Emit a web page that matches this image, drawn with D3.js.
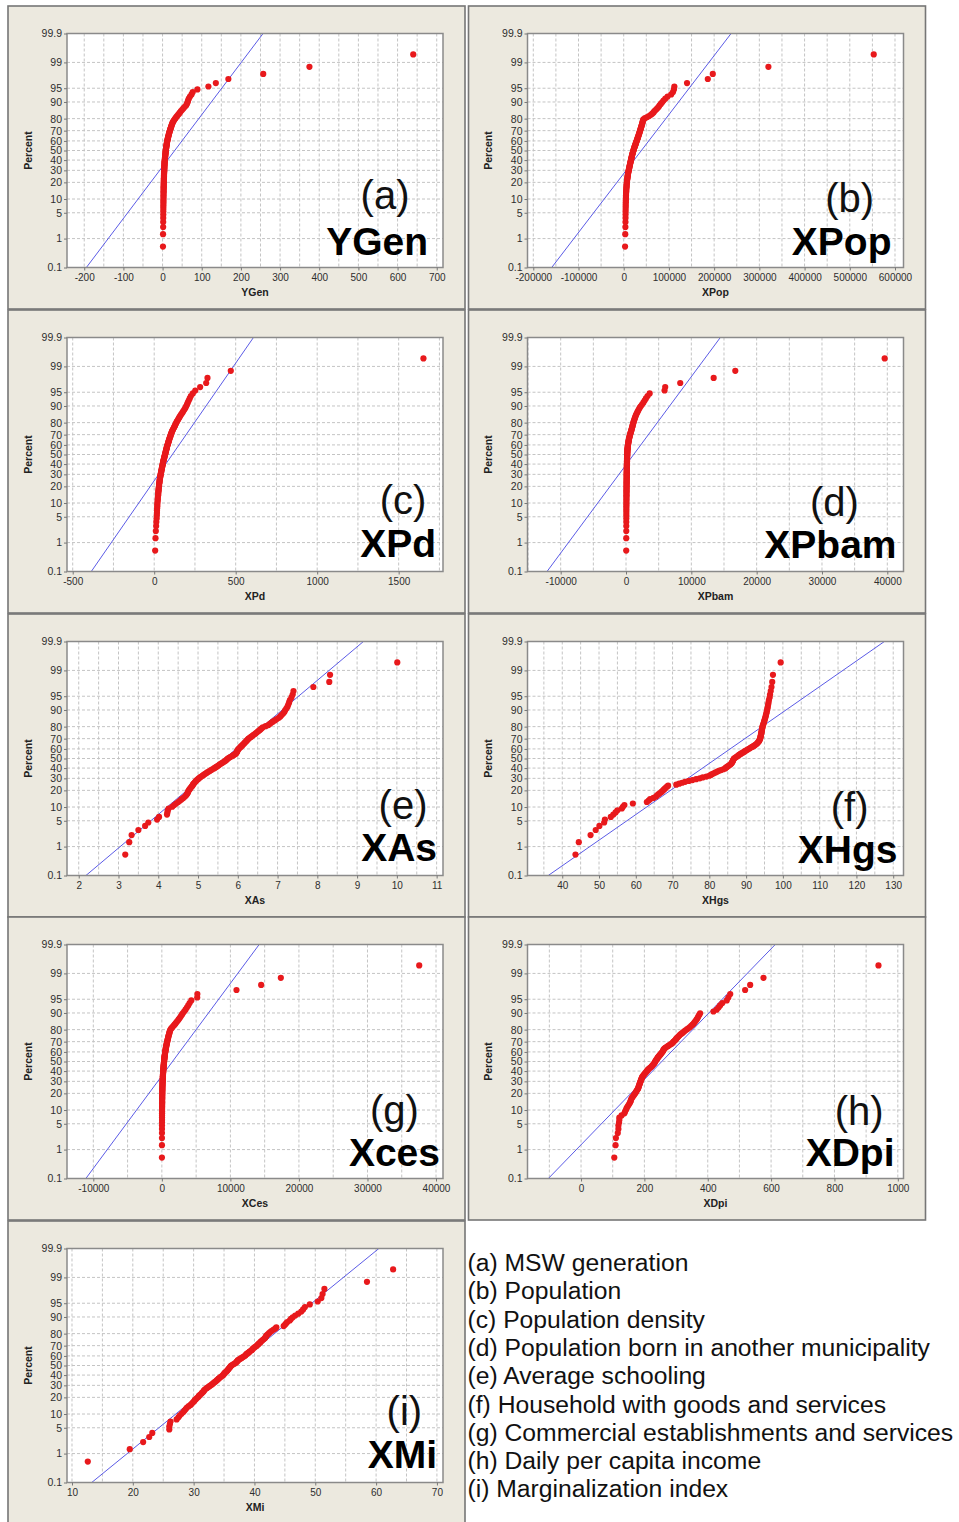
<!DOCTYPE html>
<html>
<head>
<meta charset="utf-8">
<script src="https://cdn.jsdelivr.net/npm/d3@7/dist/d3.min.js"></script>
<style>
  html, body { margin: 0; padding: 0; background: #ffffff; }
  svg { display: block; }
</style>
</head>
<body>
<svg id="fig" width="959" height="1522"></svg>
<script>
// ---------------------------------------------------------------------------
// Normal probability plots of the nine variables (125 municipalities each).
// Each series holds the sorted observations; percent position comes from rank.
// ---------------------------------------------------------------------------

const variables   = ["YGen", "XPop", "XPd", "XPbam", "XAs", "XHgs", "XCes", "XDpi", "XMi"];
const panelNames  = ["YGen", "XPop", "XPd", "XPbam", "XAs", "XHgs", "Xces", "XDpi", "XMi"];
const panelLetters = ["(a)", "(b)", "(c)", "(d)", "(e)", "(f)", "(g)", "(h)", "(i)"];

const YGen = [
  1.0, 1.2, 1.5, 1.6, 1.7, 1.8, 1.9, 2.0, 2.0, 2.1,
  2.2, 2.2, 2.3, 2.4, 2.4, 2.5, 2.6, 2.6, 2.7, 2.8,
  2.8, 2.9, 3.0, 3.0, 3.1, 3.2, 3.3, 3.3, 3.4, 3.5,
  3.6, 3.6, 3.7, 3.8, 3.9, 4.0, 4.1, 4.2, 4.3, 4.4,
  4.5, 4.6, 4.7, 4.8, 4.9, 5.0, 5.1, 5.2, 5.4, 5.6,
  5.8, 6.0, 6.2, 6.4, 6.6, 6.8, 7.0, 7.2, 7.4, 7.6,
  7.8, 8.0, 8.2, 8.4, 8.7, 9.0, 9.3, 9.6, 9.9, 10.2,
  10.5, 10.8, 11.1, 11.5, 11.9, 12.3, 12.7, 13.1, 13.6, 14.1,
  14.6, 15.1, 15.6, 16.2, 16.8, 17.4, 18.0, 18.7, 19.4, 20.1,
  20.8, 21.6, 22.4, 23.2, 24.0, 25.0, 26.0, 27.5, 29.0, 31.0,
  33.0, 35.0, 37.0, 39.5, 42.0, 44.5, 47.0, 50.0, 53.0, 56.0,
  60.0, 62.0, 64.0, 65.0, 67.0, 70.0, 74.0, 77.0,
  89, 117, 136, 168, 257, 375, 640
];

const XPop = [
  3000, 3400, 3700, 3900, 4000, 4100, 4200, 4300, 4400, 4500,
  4600, 4700, 4800, 4900, 5000, 5100, 5300, 5500, 5700, 5900,
  6100, 6300, 6500, 6700, 6900, 7100, 7400, 7700, 8000, 8300,
  8600, 8900, 9200, 9500, 9900, 10300, 10700, 11100, 11500, 11900,
  12300, 12700, 13100, 13500, 13900, 14300, 14700, 15100, 15500, 15900,
  16300, 16700, 17100, 17500, 17900, 18300, 18700, 19100, 19500, 20000,
  20500, 21000, 21500, 22000, 22500, 23000, 23600, 24200, 24800, 25400,
  26000, 26600, 27200, 27800, 28400, 29000, 29600, 30200, 30800, 31400,
  32000, 32600, 33200, 33800, 34400, 35000, 35600, 36200, 36800, 37400,
  38000, 38600, 39200, 39800, 40400, 41000, 41600, 42200, 42800, 43500,
  47000, 52000, 56000, 60000, 63000, 66000, 68000, 71000, 74000, 77000,
  79000, 82000, 85000, 88000, 92000, 97000, 105000, 109000,
  111000, 112000, 140000, 186000, 197000, 320000, 553000
];

const XPd = [
  6, 8, 10, 12, 13, 15, 16, 17, 17, 18,
  19, 19, 20, 21, 22, 22, 23, 24, 25, 25,
  26, 27, 27, 28, 29, 30, 30, 31, 32, 33,
  33, 34, 35, 36, 37, 38, 39, 40, 41, 42,
  43, 44, 45, 46, 47, 48, 49, 50, 51, 52,
  53, 54, 55, 56, 57, 58, 60, 61, 62, 63,
  64, 65, 67, 68, 69, 70, 71, 72, 74, 75,
  76, 77, 78, 80, 81, 83, 84, 86, 87, 89,
  90, 92, 93, 95, 97, 99, 100, 102, 104, 106,
  108, 110, 113, 116, 119, 122, 125, 128, 131, 134,
  137, 141, 145, 149, 153, 158, 163, 168, 174, 179,
  185, 191, 196, 201, 206, 212, 218, 225,
  237, 252, 282, 319, 327, 470, 1652
];

const XPbam = [
  30, 35, 40, 42, 45, 48, 50, 52, 54, 56,
  58, 60, 62, 64, 66, 68, 70, 72, 74, 76,
  78, 80, 82, 84, 86, 88, 90, 92, 94, 96,
  98, 100, 102, 104, 106, 108, 110, 112, 114, 116,
  118, 120, 122, 124, 126, 128, 130, 133, 136, 139,
  142, 145, 148, 151, 154, 157, 160, 164, 168, 172,
  176, 180, 185, 190, 195, 200, 206, 212, 220, 230,
  240, 252, 265, 280, 295, 310, 330, 350, 370, 390,
  410, 435, 460, 490, 520, 550, 585, 620, 660, 700,
  740, 780, 820, 860, 900, 940, 980, 1020, 1060, 1100,
  1150, 1200, 1260, 1320, 1380, 1450, 1530, 1620, 1720, 1830,
  1950, 2080, 2250, 2450, 2650, 2850, 3050, 3300,
  3620, 5900, 6000, 8300, 13420, 16730, 39600
];

const XAs = [
  3.17, 3.27, 3.33, 3.50, 3.67, 3.75, 3.97, 4.02, 4.22, 4.23,
  4.24, 4.26, 4.35, 4.40, 4.45, 4.50, 4.55, 4.59, 4.63, 4.67,
  4.70, 4.72, 4.74, 4.75, 4.76, 4.78, 4.80, 4.82, 4.84, 4.86,
  4.87, 4.89, 4.91, 4.93, 4.95, 4.97, 5.00, 5.02, 5.05, 5.08,
  5.11, 5.14, 5.17, 5.20, 5.23, 5.27, 5.30, 5.33, 5.36, 5.40,
  5.43, 5.46, 5.49, 5.52, 5.54, 5.57, 5.60, 5.63, 5.66, 5.69,
  5.71, 5.73, 5.75, 5.78, 5.81, 5.85, 5.88, 5.91, 5.94, 5.96,
  5.97, 5.98, 5.99, 6.00, 6.01, 6.03, 6.05, 6.07, 6.09, 6.11,
  6.13, 6.15, 6.17, 6.19, 6.21, 6.23, 6.25, 6.27, 6.30, 6.33,
  6.36, 6.39, 6.42, 6.45, 6.48, 6.51, 6.54, 6.57, 6.60, 6.63,
  6.70, 6.77, 6.80, 6.84, 6.88, 6.93, 6.98, 7.03, 7.07, 7.10,
  7.14, 7.17, 7.19, 7.22, 7.25, 7.27, 7.29, 7.31,
  7.35, 7.38, 7.40, 7.90, 8.30, 8.32, 10.01
];

const XHgs = [
  43.6, 44.5, 47.7, 49.1, 50.1, 51.4, 51.6, 53.2, 53.9, 54.5,
  55.0, 56.2, 56.5, 56.9, 59.2, 63.0, 63.5, 63.9, 64.8, 65.5,
  65.8, 66.2, 66.6, 67.0, 67.3, 67.6, 67.9, 68.2, 68.5, 68.8,
  71.0, 71.8, 72.6, 73.4, 74.4, 75.4, 76.4, 77.4, 78.2, 79.2,
  80.0, 80.4, 80.8, 81.2, 81.7, 82.2, 82.6, 83.2, 83.8, 84.3,
  84.5, 84.8, 85.1, 85.4, 85.7, 85.9, 86.1, 86.2, 86.3, 86.4,
  86.5, 86.6, 86.7, 87.0, 87.3, 87.6, 87.9, 88.2, 88.5, 88.8,
  89.2, 89.5, 89.8, 90.2, 90.5, 90.9, 91.2, 91.6, 92.0, 92.3,
  92.6, 92.9, 93.1, 93.3, 93.5, 93.6, 93.7, 93.8, 93.9, 93.9,
  94.0, 94.0, 94.1, 94.1, 94.2, 94.2, 94.3, 94.3, 94.4, 94.4,
  94.5, 94.6, 94.7, 94.8, 94.9, 95.0, 95.1, 95.2, 95.3, 95.4,
  95.5, 95.6, 95.7, 95.8, 95.9, 96.0, 96.1, 96.2,
  96.4, 96.5, 96.7, 96.9, 97.1, 97.3, 99.4
];

const XCes = [
  10, 12, 14, 16, 18, 20, 22, 24, 26, 28,
  30, 32, 34, 36, 38, 40, 42, 44, 46, 48,
  50, 53, 56, 59, 62, 65, 68, 71, 74, 77,
  80, 84, 88, 92, 96, 100, 105, 110, 115, 120,
  127, 134, 141, 148, 155, 162, 170, 178, 186, 195,
  204, 213, 222, 231, 240, 250, 260, 270, 280, 290,
  300, 310, 320, 332, 344, 356, 368, 380, 395, 410,
  425, 440, 455, 470, 485, 500, 520, 540, 560, 580,
  600, 625, 650, 675, 700, 725, 750, 780, 810, 840,
  870, 900, 930, 960, 1000, 1040, 1080, 1120, 1160, 1200,
  1300, 1420, 1550, 1700, 1850, 2000, 2150, 2300, 2450, 2600,
  2750, 2900, 3050, 3250, 3450, 3650, 3850, 4050,
  4300, 5160, 5180, 10890, 14490, 17360, 37550
];

const XDpi = [
  105, 109, 110, 116, 118, 118, 120, 121, 121, 128,
  137, 139, 142, 144, 147, 150, 153, 155, 157, 158,
  160, 162, 165, 167, 170, 172, 174, 176, 178, 180,
  181, 182, 183, 184, 185, 186, 187, 188, 189, 190,
  191, 192, 193, 195, 197, 199, 201, 203, 205, 207,
  209, 211, 213, 216, 219, 222, 224, 226, 228, 230,
  232, 233, 234, 236, 237, 239, 241, 242, 244, 246,
  248, 250, 252, 254, 256, 258, 259, 260, 262, 264,
  267, 271, 275, 279, 283, 287, 290, 292, 295, 298,
  300, 302, 305, 308, 311, 314, 318, 322, 326, 330,
  335, 340, 344, 348, 352, 356, 359, 362, 365, 368,
  370, 373, 376, 418, 428, 434, 439, 446,
  460, 465, 471, 518, 534, 576, 939
];

const XMi = [
  12.6, 19.5, 21.7, 22.7, 23.2, 26.0, 26.0, 26.1, 26.2, 27.2,
  27.5, 27.7, 28.0, 28.3, 28.5, 28.7, 28.9, 29.2, 29.5, 29.7,
  29.9, 30.1, 30.2, 30.4, 30.6, 30.8, 30.9, 31.1, 31.3, 31.4,
  31.6, 31.7, 31.8, 32.0, 32.2, 32.4, 32.6, 32.8, 33.0, 33.2,
  33.3, 33.5, 33.7, 33.8, 34.0, 34.1, 34.3, 34.4, 34.6, 34.8,
  34.9, 35.0, 35.1, 35.2, 35.4, 35.5, 35.6, 35.7, 35.8, 35.9,
  36.0, 36.1, 36.2, 36.4, 36.6, 36.8, 37.0, 37.1, 37.2, 37.3,
  37.5, 37.7, 37.9, 38.1, 38.3, 38.5, 38.6, 38.7, 38.9, 39.1,
  39.2, 39.4, 39.6, 39.7, 39.8, 40.0, 40.2, 40.4, 40.5, 40.7,
  40.8, 41.0, 41.1, 41.3, 41.5, 41.7, 41.8, 41.9, 42.0, 42.2,
  42.4, 42.6, 42.8, 43.1, 43.4, 43.6, 44.8, 45.0, 45.2, 45.4,
  45.8, 46.0, 46.3, 46.7, 47.2, 47.7, 48.0, 48.3,
  49.1, 50.4, 51.0, 51.2, 51.5, 58.5, 62.8
];

const series = [YGen, XPop, XPd, XPbam, XAs, XHgs, XCes, XDpi, XMi];

// Fitted normal reference line: mean and standard deviation per variable
const fitMean = [31, 39100, 111.5, 1174, 5.67, 81.9, 1555, 255, 36.85];
const fitSd   = [73, 64200, 161, 4293, 1.129, 14.79, 4092, 115.9, 7.64];

// Horizontal axis extents and labelled ticks
const xDomains = [
  [-244, 716], [-212800, 618800], [-535, 1772], [-15080, 42480], [1.705, 11.16],
  [30.55, 132.8], [-13840, 41020], [-169, 1018], [9.18, 71]
];
const xTicks = [
  [-200, -100, 0, 100, 200, 300, 400, 500, 600, 700],
  [-200000, -100000, 0, 100000, 200000, 300000, 400000, 500000, 600000],
  [-500, 0, 500, 1000, 1500],
  [-10000, 0, 10000, 20000, 30000, 40000],
  [2, 3, 4, 5, 6, 7, 8, 9, 10, 11],
  [40, 50, 60, 70, 80, 90, 100, 110, 120, 130],
  [-10000, 0, 10000, 20000, 30000, 40000],
  [0, 200, 400, 600, 800, 1000],
  [10, 20, 30, 40, 50, 60, 70]
];

// Probability (percent) axis
const percentTicks = [0.1, 1, 5, 10, 20, 30, 40, 50, 60, 70, 80, 90, 95, 99, 99.9];
const percentTickLabels = ["0.1", "1", "5", "10", "20", "30", "40", "50", "60", "70", "80", "90", "95", "99", "99.9"];

const legendLines = [
  "(a) MSW generation",
  "(b) Population",
  "(c) Population density",
  "(d) Population born in another municipality",
  "(e) Average schooling",
  "(f) Household with goods and services",
  "(g) Commercial establishments and services",
  "(h) Daily per capita income",
  "(i) Marginalization index"
];

// ---------------------------------------------------------------------------
// Inverse standard normal CDF (Acklam's rational approximation)
function normInv(p) {
  const a = [-3.969683028665376e+01, 2.209460984245205e+02, -2.759285104469687e+02,
             1.383577518672690e+02, -3.066479806614716e+01, 2.506628277459239e+00];
  const b = [-5.447609879822406e+01, 1.615858368580409e+02, -1.556989798598866e+02,
             6.680131188771972e+01, -1.328068155288572e+01];
  const c = [-7.784894002430293e-03, -3.223964580411365e-01, -2.400758277161838e+00,
             -2.549732539343734e+00, 4.374664141464968e+00, 2.938163982698783e+00];
  const d = [7.784695709041462e-03, 3.224671290700398e-01, 2.445134137142996e+00,
             3.754408661907416e+00];
  const pl = 0.02425, ph = 1 - pl;
  let q, r;
  if (p < pl) {
    q = Math.sqrt(-2 * Math.log(p));
    return (((((c[0]*q+c[1])*q+c[2])*q+c[3])*q+c[4])*q+c[5]) / ((((d[0]*q+d[1])*q+d[2])*q+d[3])*q+1);
  }
  if (p > ph) {
    q = Math.sqrt(-2 * Math.log(1 - p));
    return -(((((c[0]*q+c[1])*q+c[2])*q+c[3])*q+c[4])*q+c[5]) / ((((d[0]*q+d[1])*q+d[2])*q+d[3])*q+1);
  }
  q = p - 0.5; r = q * q;
  return (((((a[0]*r+a[1])*r+a[2])*r+a[3])*r+a[4])*r+a[5])*q / (((((b[0]*r+b[1])*r+b[2])*r+b[3])*r+b[4])*r+1);
}

// ---------------------------------------------------------------------------
// Layout
const colX = [8, 468.5];
const rowY = [6, 310, 614, 917, 1221];
const panelW = 457, panelH = 303;
const plotLeft = 59, plotTop = 27.5, plotW = 376, plotH = 234;

// Big in-plot labels: distance of name's right edge from frame, baseline lift, letter offsets
const nameRight   = [15, 12, 7, 7, 6, 6, 3, 9, 6];
const nameLift    = [12.5, 13, 15, 13.5, 15, 13, 13, 13, 15];
const letterShift = [8, 8, 5, 4, 4, 2, 0, 9, 2];
const letterGap   = [46, 43, 43, 42, 42, 42, 42, 41, 43];

const tickFont = "'Liberation Sans', Arial, sans-serif";
const zLo = normInv(0.001), zHi = normInv(0.999);

const svg = d3.select("#fig");

series.forEach((vals, k) => {
  const x0 = colX[k % 2], y0 = rowY[Math.floor(k / 2)];
  const g = svg.append("g").attr("transform", `translate(${x0},${y0})`);

  // panel background
  g.append("rect")
    .attr("width", panelW).attr("height", k === 8 ? 310 : panelH)
    .attr("fill", "#ece9df").attr("stroke", "#767676").attr("stroke-width", 1.6);

  const x = d3.scaleLinear().domain(xDomains[k]).range([plotLeft, plotLeft + plotW]);
  const y = d3.scaleLinear().domain([zLo, zHi]).range([plotTop + plotH, plotTop]);

  // plot area
  g.append("rect")
    .attr("x", plotLeft).attr("y", plotTop).attr("width", plotW).attr("height", plotH)
    .attr("fill", "#ffffff");

  // gridlines: vertical at every half tick step, horizontal at percent ticks
  const step = xTicks[k][1] - xTicks[k][0];
  const dom = xDomains[k];
  const gridX = [];
  for (let v = xTicks[k][0] - Math.ceil((xTicks[k][0] - dom[0]) / (step / 2)) * step / 2; v <= dom[1]; v += step / 2) {
    if (v > dom[0]) gridX.push(v);
  }
  const grid = g.append("g").attr("stroke", "#c4c4c4").attr("stroke-width", 1)
    .attr("stroke-dasharray", "3,2").attr("fill", "none");
  grid.selectAll("line.vx").data(gridX).join("line")
    .attr("x1", d => x(d)).attr("x2", d => x(d))
    .attr("y1", plotTop).attr("y2", plotTop + plotH);
  grid.selectAll("line.hy").data(percentTicks.slice(1, -1)).join("line")
    .attr("x1", plotLeft).attr("x2", plotLeft + plotW)
    .attr("y1", d => y(normInv(d / 100))).attr("y2", d => y(normInv(d / 100)));

  // clip for marks
  const clipId = "clip" + k;
  g.append("clipPath").attr("id", clipId).append("rect")
    .attr("x", plotLeft).attr("y", plotTop).attr("width", plotW).attr("height", plotH);

  // fitted normal line
  g.append("line")
    .attr("clip-path", `url(#${clipId})`)
    .attr("x1", x(fitMean[k] + zLo * fitSd[k])).attr("y1", y(zLo))
    .attr("x2", x(fitMean[k] + zHi * fitSd[k])).attr("y2", y(zHi))
    .attr("stroke", "#5b5be6").attr("stroke-width", 1);

  // observations at median-rank plotting positions
  const n = vals.length;
  g.append("g").attr("clip-path", `url(#${clipId})`)
    .selectAll("circle").data(vals).join("circle")
    .attr("cx", d => x(d))
    .attr("cy", (d, i) => y(normInv((i + 1 - 0.3) / (n + 0.4))))
    .attr("r", 3.1)
    .attr("fill", "#e8191c");

  // frame
  g.append("rect")
    .attr("x", plotLeft).attr("y", plotTop).attr("width", plotW).attr("height", plotH)
    .attr("fill", "none").attr("stroke", "#8a8a8a").attr("stroke-width", 1.5);

  // axes
  const yAxis = d3.axisLeft(y)
    .tickValues(percentTicks.map(p => normInv(p / 100)))
    .tickFormat((d, i) => percentTickLabels[i])
    .tickSize(3).tickPadding(2);
  const ya = g.append("g").attr("transform", `translate(${plotLeft},0)`).call(yAxis);

  const xAxis = d3.axisBottom(x)
    .tickValues(xTicks[k])
    .tickFormat(d => String(d))
    .tickSize(3).tickPadding(3);
  const xa = g.append("g").attr("transform", `translate(0,${plotTop + plotH})`).call(xAxis);

  [ya, xa].forEach(a => {
    a.select(".domain").remove();
    a.selectAll(".tick line").attr("stroke", "#777");
    a.selectAll(".tick text").attr("fill", "#2e2e2e").attr("font-family", tickFont);
  });
  ya.selectAll(".tick text").attr("font-size", 10.5);
  xa.selectAll(".tick text").attr("font-size", 10);

  // axis titles
  g.append("text")
    .attr("x", plotLeft + plotW / 2).attr("y", plotTop + plotH + 28.5)
    .attr("text-anchor", "middle")
    .attr("font-family", tickFont).attr("font-weight", "bold").attr("font-size", 10.5)
    .attr("fill", "#222").text(variables[k]);
  g.append("text")
    .attr("transform", `translate(${plotLeft - 35.5},${plotTop + plotH / 2}) rotate(-90)`)
    .attr("text-anchor", "middle")
    .attr("font-family", tickFont).attr("font-weight", "bold").attr("font-size", 10.5)
    .attr("fill", "#222").text("Percent");

  // big identifiers
  const nameX = plotLeft + plotW - nameRight[k];
  const nameY = plotTop + plotH - nameLift[k];
  const nameText = g.append("text")
    .attr("x", nameX).attr("y", nameY)
    .attr("text-anchor", "end")
    .attr("font-family", "'Liberation Sans', Arial, sans-serif")
    .attr("font-weight", "bold").attr("font-size", 39)
    .attr("fill", "#000").text(panelNames[k]);
  const nameW = nameText.node().getComputedTextLength();
  g.append("text")
    .attr("x", nameX - nameW / 2 + letterShift[k]).attr("y", nameY - letterGap[k])
    .attr("text-anchor", "middle")
    .attr("font-family", "'Liberation Sans', Arial, sans-serif")
    .attr("font-size", 40)
    .attr("fill", "#111").text(panelLetters[k]);
});

// variable descriptions
svg.append("g")
  .selectAll("text").data(legendLines).join("text")
  .attr("x", 467.5)
  .attr("y", (d, i) => 1271 + i * 28.3)
  .attr("font-family", "'Liberation Sans', Arial, sans-serif")
  .attr("font-size", 24.7)
  .attr("fill", "#111")
  .text(d => d);
</script>
</body>
</html>
